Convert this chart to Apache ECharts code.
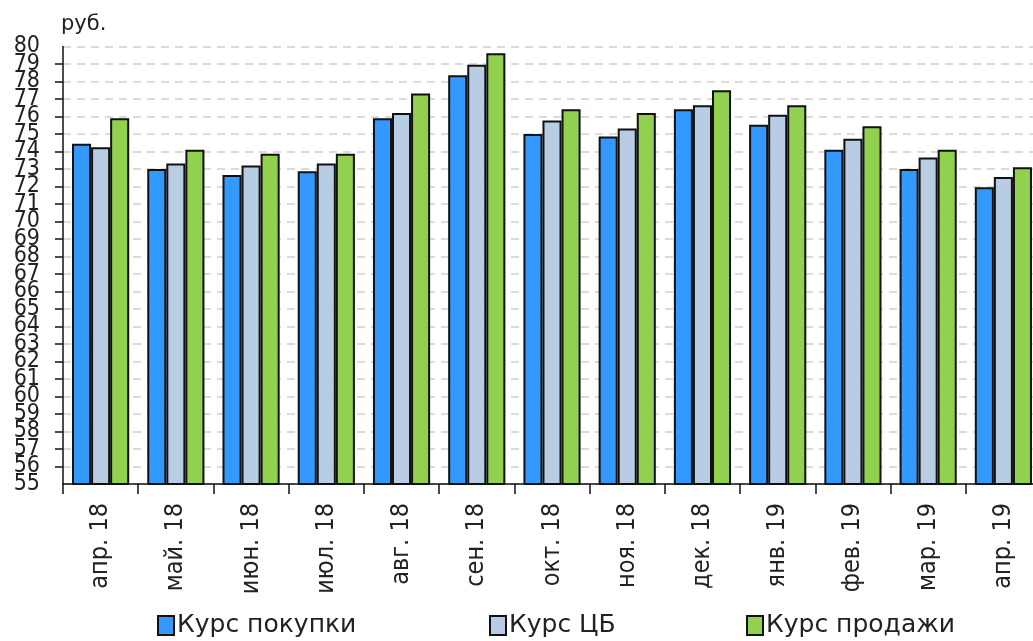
<!DOCTYPE html>
<html>
<head>
<meta charset="utf-8">
<script src="https://cdn.jsdelivr.net/npm/echarts@6/dist/echarts.min.js"></script>
<style>
html, body { margin: 0; padding: 0; background: #fff; }
#chart { width: 1033px; height: 641px; }
</style>
</head>
<body>
<div id="chart"></div>
<script>
// months
var months = ["апр. 18", "май. 18", "июн. 18", "июл. 18", "авг. 18", "сен. 18", "окт. 18",
  "ноя. 18", "дек. 18", "янв. 19", "фев. 19", "мар. 19", "апр. 19"];
var seriesNames = ["Курс покупки", "Курс ЦБ", "Курс продажи"];
var buyRate = [74.45, 73.0, 72.66, 72.87, 75.9, 78.36, 75.0, 74.86, 76.42, 75.53, 74.1, 73.0, 71.96];
var cbRate = [74.25, 73.32, 73.2, 73.32, 76.2, 78.96, 75.77, 75.32, 76.65, 76.1, 74.73, 73.66, 72.55];
var sellRate = [75.9, 74.1, 73.87, 73.87, 77.32, 79.61, 76.42, 76.2, 77.5, 76.65, 75.45, 74.1, 73.1];
var yMin = 55, yMax = 80, yStep = 1;

var colors = ["#3399ff", "#b8cce4", "#92d050"];
var legendLeft = [152, 484, 741];

var myChart = echarts.init(document.getElementById("chart"));

function bar(name, data, color) {
  return {
    name: name,
    type: "bar",
    data: data,
    yAxisIndex: 0,
    barGap: "0%",
    barCategoryGap: "24%",
    itemStyle: { color: color, borderColor: "#111", borderWidth: 2 }
  };
}

var yLabelStyle = {
  margin: 23,
  fontSize: 23,
  color: "#222",
  fontFamily: "DejaVu Sans Condensed, DejaVu Sans"
};

myChart.setOption({
  animation: false,
  textStyle: { fontFamily: "DejaVu Sans Condensed, DejaVu Sans", color: "#222" },
  title: {
    text: "руб.",
    left: 56,
    top: 9,
    textStyle: { fontFamily: "DejaVu Sans", fontSize: 21, fontWeight: "normal", color: "#222" }
  },
  legend: seriesNames.map(function (n, i) {
    return {
      data: [n],
      left: legendLeft[i],
      top: 608,
      itemWidth: 16,
      itemHeight: 19,
      itemGap: 4,
      icon: "rect",
      textStyle: { fontFamily: "DejaVu Sans", fontSize: 25, color: "#222", padding: [0, 0, 0, -2] }
    };
  }),
  grid: {
    left: 63,
    right: -8,
    top: 46.5,
    bottom: 157,
    containLabel: false,
    outerBoundsMode: "none"
  },
  xAxis: {
    type: "category",
    data: months,
    axisLine: { lineStyle: { color: "#111", width: 1.5 } },
    axisTick: { show: true, length: 10, interval: 0, lineStyle: { color: "#111", width: 1.5 } },
    axisLabel: {
      interval: 0,
      rotate: 90,
      margin: 19,
      fontSize: 25,
      color: "#222",
      fontFamily: "DejaVu Sans Condensed, DejaVu Sans"
    }
  },
  yAxis: [
    {
      type: "value",
      position: "left",
      min: yMin,
      max: yMax,
      interval: yStep,
      axisLine: { show: true, lineStyle: { color: "#111", width: 1.5 } },
      axisTick: { show: true, length: 8, lineStyle: { color: "#111", width: 1.5 } },
      axisLabel: Object.assign({ showMinLabel: false, showMaxLabel: false }, yLabelStyle),
      splitLine: { lineStyle: { color: "#d0d0d0", width: 1.5, type: [8, 6] } }
    },
    {
      // second axis only draws the end labels 55 and 80
      type: "value",
      position: "left",
      min: yMin,
      max: yMax,
      interval: yStep,
      axisLine: { show: false },
      axisTick: { show: false },
      splitLine: { show: false },
      axisLabel: Object.assign({
        showMinLabel: true,
        showMaxLabel: true,
        formatter: function (v) { return (v === yMin || v === yMax) ? String(v) : ""; }
      }, yLabelStyle)
    }
  ],
  series: [
    bar(seriesNames[0], buyRate, colors[0]),
    bar(seriesNames[1], cbRate, colors[1]),
    bar(seriesNames[2], sellRate, colors[2])
  ]
});
</script>
</body>
</html>
